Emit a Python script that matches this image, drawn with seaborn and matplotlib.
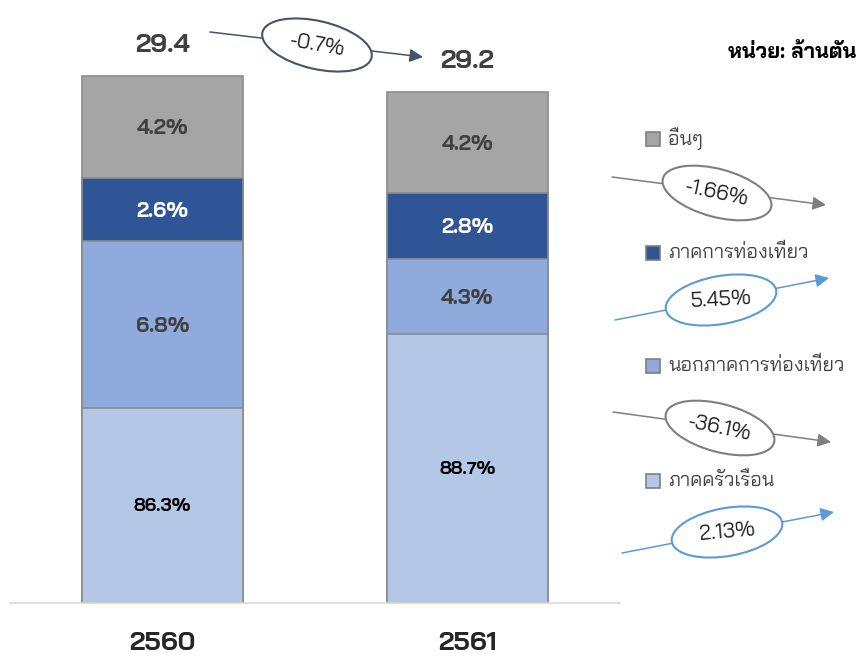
import matplotlib
matplotlib.use("Agg")
import matplotlib.pyplot as plt
from matplotlib.patches import Ellipse, Rectangle
import pandas as pd
import seaborn as sns

# data (bottom segment first)
years = ["2560", "2561"]
totals = [29.4, 29.2]
segments = ["ภาคครัวเรือน", "นอกภาคการท่องเที่ยว", "ภาคการท่องเที่ยว", "อื่นๆ"]
share_2560 = [86.3, 6.8, 2.6, 4.2]
share_2561 = [88.7, 4.3, 2.8, 4.2]
# drawn heights of each block (blocks are not to scale)
height_2560 = [10.9, 9.3, 3.5, 5.7]
height_2561 = [15.0, 4.2, 3.7, 5.6]
growth = ["2.13%", "-36.1%", "5.45%", "-1.66%"]
total_change = "-0.7%"

colors = ["#b4c7e7", "#8faadc", "#2f5597", "#a5a5a5"]
label_colors = ["black", "#404040", "white", "#404040"]
label_sizes = [13, 15, 15, 15]

sns.set_style("white")
plt.rcParams["font.family"] = ["Bai Jamjuree", "DejaVu Sans"]

rows = []
for yr, shares, hts in [("2560", share_2560, height_2560), ("2561", share_2561, height_2561)]:
    bottom = 0
    for seg, sh, h in zip(segments, shares, hts):
        rows.append({"year": yr, "segment": seg, "share": sh, "bottom": bottom, "top": bottom + h})
        bottom += h
df = pd.DataFrame(rows)

fig = plt.figure(figsize=(8.58, 6.56), dpi=100)
ax = fig.add_axes([10 / 858, 53 / 656, 610 / 858, 603 / 656])

# stack by drawing the cumulative tops from the top block downwards
for i in reversed(range(len(segments))):
    sub = df[df["segment"] == segments[i]]
    sns.barplot(data=sub, x="year", y="top", order=years, color=colors[i],
                saturation=1, width=0.53, edgecolor="#8c8c8c", linewidth=1.2,
                errorbar=None, ax=ax)

for _, r in df.iterrows():
    i = segments.index(r["segment"])
    xi = years.index(r["year"])
    ax.text(xi, (r["bottom"] + r["top"]) / 2 - 0.1, f"{r['share']:.1f}%", ha="center", va="center",
            fontsize=label_sizes[i], fontweight="bold", color=label_colors[i])

stack_tops = df.groupby("year")["top"].max()
for xi, yr in enumerate(years):
    ax.text(xi, stack_tops[yr] + 1.7, f"{totals[xi]:.1f}", ha="center", va="center",
            fontsize=19, fontweight="bold", color="#404040")

ax.set_xlim(-0.5, 1.5)
ax.set_ylim(0, 33.64)
ax.set_xlabel("")
ax.set_ylabel("")
ax.set_yticks([])
ax.tick_params(axis="x", length=0, pad=21, labelsize=19)
for lbl in ax.get_xticklabels():
    lbl.set_fontweight("bold")
sns.despine(ax=ax, left=True)
ax.spines["bottom"].set_color("#d9d9d9")
ax.spines["bottom"].set_linewidth(1.2)

# overlay in pixel units for legend, arrows and change bubbles
ov = fig.add_axes([0, 0, 1, 1])
ov.set_xlim(0, 858)
ov.set_ylim(656, 0)
ov.axis("off")
ov.patch.set_alpha(0)

ov.text(856, 52, "หน่วย: ล้านตัน", ha="right", va="center", fontsize=15,
        fontweight="bold", color="black")

legend_y = [481, 366, 253, 139]
for i in range(len(segments)):
    ov.add_patch(Rectangle((646, legend_y[i] - 7), 14, 14, facecolor=colors[i],
                           edgecolor="#7f7f7f", linewidth=1.2))
    ov.text(668, legend_y[i], segments[i], ha="left", va="center", fontsize=14, color="#404040")

# change bubbles: start, tip, center, angle, colour, text rotation
bubbles = [
    (total_change, (210, 32), (423, 57), (317, 45), 13, "#44546a", -10),
    (growth[3], (612, 177), (826, 205), (717, 193), 15, "#7f7f7f", -12),
    (growth[2], (615, 320), (829, 278), (721, 300), -10, "#5b9bd5", 3),
    (growth[1], (613, 412), (831, 442), (720, 428), 15, "#7f7f7f", -12),
    (growth[0], (622, 553), (834, 512), (727, 532), -10, "#5b9bd5", 5),
]
for txt, start, tip, center, ang, col, rot in bubbles:
    ov.annotate("", xy=tip, xytext=start,
                arrowprops=dict(arrowstyle="-|>", color=col, lw=1.1, mutation_scale=20,
                                shrinkA=0, shrinkB=0))
    ov.add_patch(Ellipse(center, 112, 48, angle=ang, facecolor="white", edgecolor=col,
                         linewidth=1.5, zorder=3))
    ov.text(center[0], center[1], txt, ha="center", va="center", fontsize=15,
            rotation=rot, color="#1a1a1a", zorder=4)

fig.savefig("out.png", dpi=100)
